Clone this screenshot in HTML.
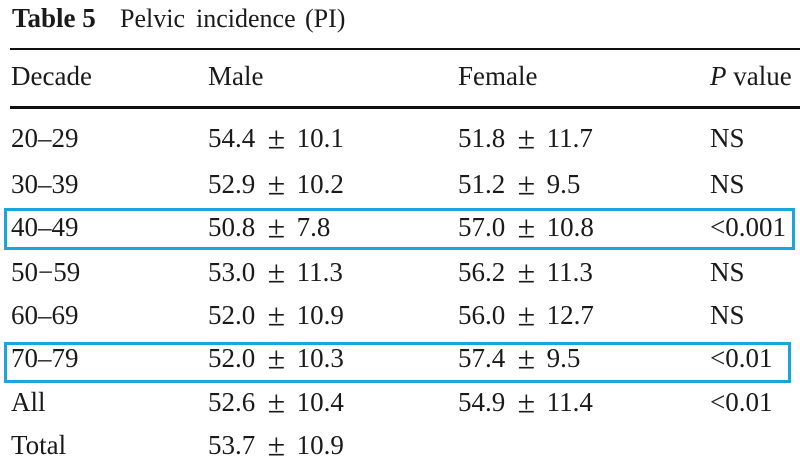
<!DOCTYPE html>
<html>
<head>
<meta charset="utf-8">
<style>
  html, body { margin:0; padding:0; background:#fff; }
  body { width:800px; height:470px; position:relative; overflow:hidden;
         font-family:"Liberation Serif", "Times New Roman", serif; color:#1a1a1a; }
  .t { position:absolute; white-space:nowrap; font-size:27px; line-height:27px; word-spacing:5px; }
  .t b { font-weight:normal; display:inline-block; transform:scale(1.18); margin:0 1.5px; }
  .ti { position:absolute; white-space:nowrap; font-size:26px; line-height:26px; }
  .rule { position:absolute; left:10px; right:0; background:#111; }
  .box { position:absolute; border:3px solid #1ca4dc; box-sizing:border-box; }
</style>
</head>
<body>
  <!-- Title -->
  <div class="ti" style="left:12px; top:5px; font-weight:bold; font-size:27px;">Table 5</div>
  <div class="ti" style="left:120px; top:6px;">Pelvic</div>
  <div class="ti" style="left:196px; top:6px;">incidence</div>
  <div class="ti" style="left:305px; top:6px;">(PI)</div>

  <div class="rule" style="top:48px; height:2px;"></div>
  <div class="rule" style="top:106px; height:3px;"></div>

  <!-- Highlight boxes -->
  <div class="box" style="left:4px; top:208px; width:791px; height:42px;"></div>
  <div class="box" style="left:4px; top:342px; width:787px; height:41px;"></div>

  <!-- Header -->
  <div class="t" style="left:11px; top:63px;">Decade</div>
  <div class="t" style="left:208px; top:63px;">Male</div>
  <div class="t" style="left:458px; top:63px;">Female</div>
  <div class="t" style="left:710px; top:63px; word-spacing:0;"><i>P</i> value</div>

  <!-- Row 20–29 -->
  <div class="t" style="left:11px; top:125px;">20–29</div>
  <div class="t" style="left:208px; top:125px;">54.4 <b>±</b> 10.1</div>
  <div class="t" style="left:458px; top:125px;">51.8 <b>±</b> 11.7</div>
  <div class="t" style="left:710px; top:125px;">NS</div>

  <!-- Row 30–39 -->
  <div class="t" style="left:11px; top:171px;">30–39</div>
  <div class="t" style="left:208px; top:171px;">52.9 <b>±</b> 10.2</div>
  <div class="t" style="left:458px; top:171px;">51.2 <b>±</b> 9.5</div>
  <div class="t" style="left:710px; top:171px;">NS</div>

  <!-- Row 40–49 -->
  <div class="t" style="left:11px; top:214px;">40–49</div>
  <div class="t" style="left:208px; top:214px;">50.8 <b>±</b> 7.8</div>
  <div class="t" style="left:458px; top:214px;">57.0 <b>±</b> 10.8</div>
  <div class="t" style="left:710px; top:214px;">&lt;0.001</div>

  <!-- Row 50–59 -->
  <div class="t" style="left:11px; top:259px;">50−59</div>
  <div class="t" style="left:208px; top:259px;">53.0 <b>±</b> 11.3</div>
  <div class="t" style="left:458px; top:259px;">56.2 <b>±</b> 11.3</div>
  <div class="t" style="left:710px; top:259px;">NS</div>

  <!-- Row 60–69 -->
  <div class="t" style="left:11px; top:302px;">60–69</div>
  <div class="t" style="left:208px; top:302px;">52.0 <b>±</b> 10.9</div>
  <div class="t" style="left:458px; top:302px;">56.0 <b>±</b> 12.7</div>
  <div class="t" style="left:710px; top:302px;">NS</div>

  <!-- Row 70–79 -->
  <div class="t" style="left:11px; top:345px;">70–79</div>
  <div class="t" style="left:208px; top:345px;">52.0 <b>±</b> 10.3</div>
  <div class="t" style="left:458px; top:345px;">57.4 <b>±</b> 9.5</div>
  <div class="t" style="left:710px; top:345px;">&lt;0.01</div>

  <!-- All -->
  <div class="t" style="left:11px; top:389px;">All</div>
  <div class="t" style="left:208px; top:389px;">52.6 <b>±</b> 10.4</div>
  <div class="t" style="left:458px; top:389px;">54.9 <b>±</b> 11.4</div>
  <div class="t" style="left:710px; top:389px;">&lt;0.01</div>

  <!-- Total -->
  <div class="t" style="left:11px; top:432px;">Total</div>
  <div class="t" style="left:208px; top:432px;">53.7 <b>±</b> 10.9</div>
</body>
</html>
